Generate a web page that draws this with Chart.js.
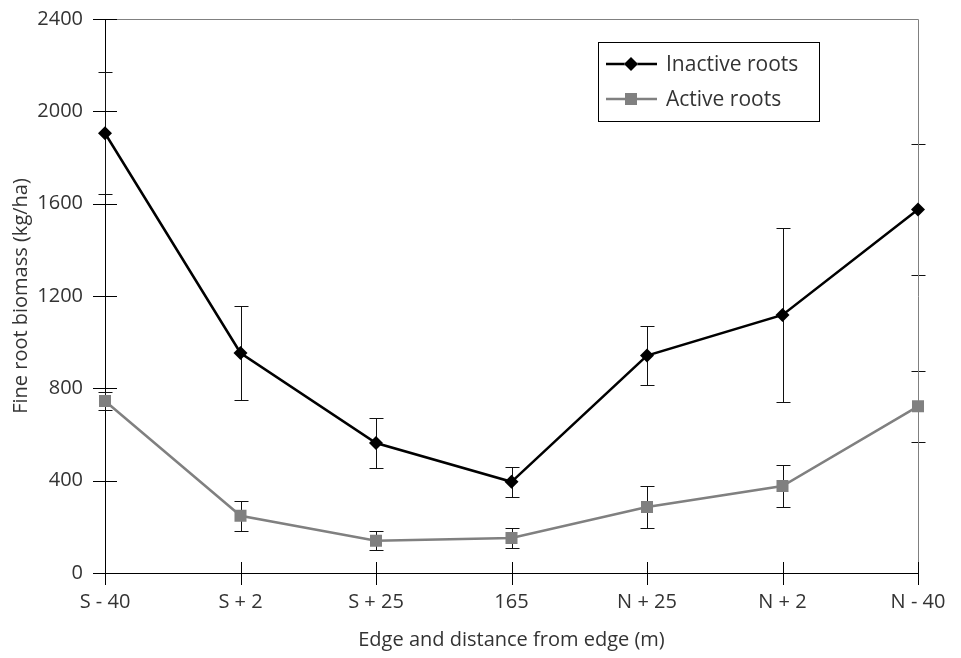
<!DOCTYPE html>
<html>
<head>
<meta charset="utf-8">
<script src="https://cdn.jsdelivr.net/npm/chart.js@4"></script>
<style>
  html, body { margin: 0; padding: 0; background: #fff; }
  #wrap { width: 961px; height: 658px; }
</style>
</head>
<body>
<div id="wrap"><canvas id="rootChart"></canvas></div>
<script>
const categories = ['S - 40', 'S + 2', 'S + 25', '165', 'N + 25', 'N + 2', 'N - 40'];
const inactiveRoots = [1905, 953, 563, 395, 942, 1118, 1575];
const inactiveErr = [265, 203, 109, 64, 126, 378, 285];
const activeRoots = [745, 248, 140, 152, 286, 377, 722];
const activeErr = [40, 65, 40, 45, 90, 93, 153];
const yTicks = [0, 400, 800, 1200, 1600, 2000, 2400];

const FONT = "'Open Sans', sans-serif";
const TEXT = '#333';

// error bars behind the markers
const errorBars = {
  id: 'errorBars',
  beforeDatasetsDraw(chart) {
    const { ctx, scales: { y } } = chart;
    ctx.save();
    ctx.lineWidth = 1;
    chart.data.datasets.forEach((ds, i) => {
      const meta = chart.getDatasetMeta(i);
      ctx.strokeStyle = ds.errColor;
      meta.data.forEach((pt, j) => {
        const v = ds.data[j], e = ds.err[j];
        const top = Math.round(y.getPixelForValue(v + e)) + 0.5;
        const bot = Math.round(y.getPixelForValue(v - e)) + 0.5;
        const x = Math.round(pt.x) + 0.5;
        ctx.beginPath();
        ctx.moveTo(x, top); ctx.lineTo(x, bot);
        ctx.moveTo(x - 7, top); ctx.lineTo(x + 7, top);
        ctx.moveTo(x - 7, bot); ctx.lineTo(x + 7, bot);
        ctx.stroke();
      });
    });
    ctx.restore();
  }
};

// crossing tick marks, grey frame on top/right, boxed legend
const decorations = {
  id: 'decorations',
  beforeDatasetsDraw(chart) {
    const { ctx, chartArea: a, scales: { x, y } } = chart;
    ctx.save();
    ctx.strokeStyle = '#808080';
    ctx.lineWidth = 1;
    ctx.beginPath();
    ctx.moveTo(a.left, a.top + 0.5); ctx.lineTo(a.right + 0.5, a.top + 0.5);
    ctx.lineTo(a.right + 0.5, a.bottom);
    ctx.stroke();
    ctx.strokeStyle = '#000';
    ctx.beginPath();
    yTicks.forEach(t => {
      const py = Math.round(y.getPixelForValue(t)) + 0.5;
      ctx.moveTo(a.left - 12, py); ctx.lineTo(a.left + 12, py);
    });
    categories.forEach((c, i) => {
      const px = Math.round(x.getPixelForValue(i)) + 0.5;
      ctx.moveTo(px, a.bottom - 11); ctx.lineTo(px, a.bottom + 12);
    });
    ctx.stroke();
    ctx.restore();
  },
  afterDraw(chart) {
    const { ctx } = chart;
    const bx = 598, by = 42, bw = 221, bh = 79;
    ctx.save();
    ctx.fillStyle = '#fff';
    ctx.fillRect(bx, by, bw, bh);
    ctx.strokeStyle = '#000';
    ctx.lineWidth = 1;
    ctx.strokeRect(bx + 0.5, by + 0.5, bw, bh);
    chart.data.datasets.forEach((ds, i) => {
      const ly = 64 + i * 35;
      ctx.strokeStyle = ds.borderColor;
      ctx.lineWidth = 2.5;
      ctx.beginPath();
      ctx.moveTo(606, ly); ctx.lineTo(657, ly);
      ctx.stroke();
      Chart.helpers.drawPoint(ctx, {
        pointStyle: ds.pointStyle, radius: ds.pointRadius, borderWidth: 0
      }, 631, ly);
      ctx.fillStyle = ds.pointBackgroundColor;
      ctx.fill();
      ctx.fillStyle = TEXT;
      ctx.font = `21px ${FONT}`;
      ctx.textBaseline = 'middle';
      ctx.fillText(ds.label, 666, ly + 1);
    });
    ctx.restore();
  }
};

new Chart(document.getElementById('rootChart'), {
  type: 'line',
  data: {
    labels: categories,
    datasets: [
      {
        label: 'Inactive roots',
        data: inactiveRoots,
        err: inactiveErr,
        errColor: '#111',
        borderColor: '#000',
        borderWidth: 2.5,
        pointStyle: 'rectRot',
        pointRadius: 7,
        pointBackgroundColor: '#000',
        pointBorderWidth: 0,
        tension: 0
      },
      {
        label: 'Active roots',
        data: activeRoots,
        err: activeErr,
        errColor: '#111',
        borderColor: '#808080',
        borderWidth: 2.5,
        pointStyle: 'rect',
        pointRadius: 8.5,
        pointBackgroundColor: '#808080',
        pointBorderWidth: 0,
        tension: 0
      }
    ]
  },
  options: {
    responsive: true,
    maintainAspectRatio: false,
    animation: false,
    layout: { padding: { top: 19, right: 43, left: 0, bottom: 0 } },
    plugins: { legend: { display: false }, tooltip: { enabled: false } },
    scales: {
      x: {
        offset: false,
        grid: { display: false, drawTicks: false },
        border: { display: true, color: '#000', width: 1 },
        ticks: { color: TEXT, font: { family: FONT, size: 20 }, padding: 17, maxRotation: 0 },
        title: {
          display: true, text: 'Edge and distance from edge (m)',
          color: TEXT, font: { family: FONT, size: 20 }, padding: { top: 6, bottom: 6 }
        },
        afterFit(s) { s.height = 85; s.paddingLeft = 0; s.paddingRight = 0; }
      },
      y: {
        min: 0, max: 2400,
        afterBuildTicks(s) { s.ticks = yTicks.map(v => ({ value: v })); },
        grid: { display: false, drawTicks: false },
        border: { display: true, color: '#000', width: 1 },
        ticks: {
          color: TEXT, font: { family: FONT, size: 20 }, padding: 22,
          callback: v => String(v)
        },
        title: {
          display: true, text: 'Fine root biomass (kg/ha)',
          color: TEXT, font: { family: FONT, size: 20 }, padding: { top: 9, bottom: 4 }
        },
        afterFit(s) { s.width = 105; s.paddingTop = 0; s.paddingBottom = 0; }
      }
    }
  },
  plugins: [errorBars, decorations]
});
</script>
</body>
</html>
